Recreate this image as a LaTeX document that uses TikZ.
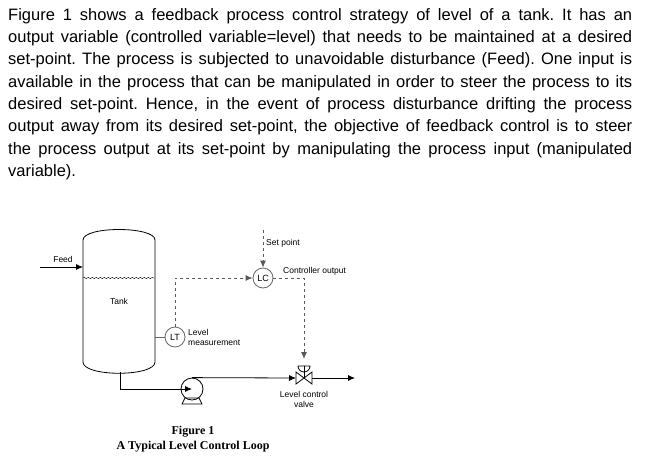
\documentclass[tikz,border=0pt]{standalone}
\usepackage{fontspec}
\setmainfont{Liberation Sans}
\newfontfamily\capfont{Liberation Serif}
\usetikzlibrary{arrows.meta,decorations.pathmorphing}
\begin{document}
\frenchspacing
\begin{tikzpicture}[x=1pt,y=-1pt,
  para/.style={anchor=west,inner sep=0pt,font=\fontsize{16.5}{19}\selectfont},
  lbl/.style={font=\fontsize{8.5}{10}\selectfont,inner sep=0pt},
  inst/.style={circle,draw=gray!80!black,thick,minimum size=20pt,inner sep=0pt,font=\fontsize{9}{10}\selectfont},
  pipe/.style={thick,-{Latex[length=7pt,width=6pt]}},
  sig/.style={thick,dashed,gray!70!black,-{Latex[length=7pt,width=6pt]}}]
\useasboundingbox (0,0) rectangle (663,464);
\foreach \t [count=\i] in {
 {Figure 1 shows a feedback process control strategy of level of a tank. It has an},
 {output variable (controlled variable=level) that needs to be maintained at a desired},
 {set-point. The process is subjected to unavoidable disturbance (Feed). One input is},
 {available in the process that can be manipulated in order to steer the process to its},
 {desired set-point. Hence, in the event of process disturbance drifting the process},
 {output away from its desired set-point, the objective of feedback control is to steer},
 {the process output at its set-point by manipulating the process input (manipulated}}
 \node[para] (l\i) at (8,{16+22.3*(\i-1)}) {\makebox[624pt][s]{\t}};
\node[para] (l8) at (8,172) {variable).};
% tank
\draw[thick] (83,362) -- (83,240) .. controls (83,226) and (155,226) .. (155,240) -- (155,362)
  .. controls (155,377) and (83,377) .. (83,362) -- cycle;
\draw[decorate,decoration={snake,amplitude=0.6pt,segment length=4pt}] (83,278) -- (155,278);
\node[lbl] (tank) at (119,301) {Tank};
\coordinate (fs) at (40,267);
\coordinate (fe) at (83,267);
\draw[pipe] (fs) -- (fe);
\node[lbl] (feed) at (63,259) {Feed};
% LT / LC
\node[inst] (lt) at (175,337) {LT};
\node[inst] (lc) at (263,278) {LC};
\draw[thick,gray!80!black] (155,337) -- (lt.west);
\node[lbl,align=left,anchor=west] (ltl) at (188,337) {Level\\measurement};
\draw[sig] (lt.north) |- (lc.west);
\coordinate (sp) at (263,230);
\draw[sig] (sp) -- (lc.north);
\node[lbl,anchor=west] (spl) at (266,243) {Set point};
\node[lbl,anchor=west] (col) at (283,271) {Controller output};
% valve
\coordinate (vc) at (304,378);
\draw[thick] (296,372) -- (312,384) -- (312,372) -- (296,384) -- cycle;
\draw[thick] (304,378) -- (304,366);
\draw[thick] (298,366) -- (310,366) arc (0:180:6);
\draw[sig] (lc.east) -| (304,359);
\node[lbl,align=center] (vl) at (304,399) {Level control\\valve};
% pump
\node[circle,thick,draw,minimum size=22pt,inner sep=0pt] (pump) at (192,389) {};
\draw[thick] (182,404) -- (202,404) -- (199,398) -- (185,398) -- cycle;
\draw[pipe] (120,372) |- (pump.center);
\draw[pipe] (pump.north) -- (296,378);
\coordinate (out) at (355,378);
\draw[pipe] (312,378) -- (out);
\node[font=\capfont\bfseries\fontsize{12}{14.5}\selectfont,align=center] (cap) at (193,439) {Figure 1\\A Typical Level Control Loop};
\end{tikzpicture}
\end{document}
